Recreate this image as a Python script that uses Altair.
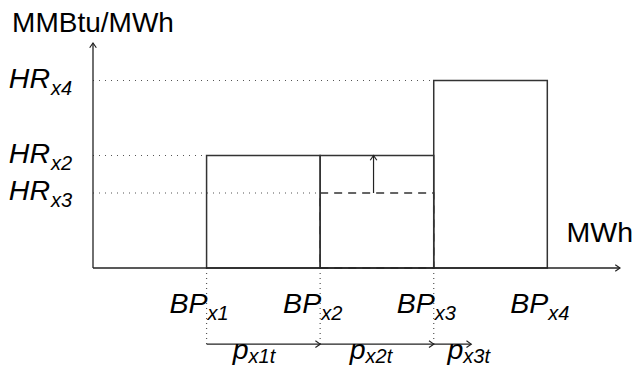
import altair as alt
import pandas as pd

# ---------------- data ----------------
bp_values = [1, 2, 3, 4]
bp_subs = ["x1", "x2", "x3", "x4"]
hr_values = [5, 3, 2]
hr_subs = ["x4", "x2", "x3"]

block_start = [1, 2, 3]
block_end = [2, 3, 4]
block_hr = [3, 3, 5]

dash_start = [2]
dash_end = [3]
dash_hr = [2]

guide_hr = [5, 3, 2]
guide_end = [3, 1, 2]

drop_x = [1, 2, 3]

p_start = [1, 2, 3]
p_end = [2, 3, 3.33]
p_label_x = [1.37, 2.40, 3.26]
p_subs = ["x1t", "x2t", "x3t"]

x_max = 4.64
y_max = 6
p_level = -2.03
up_arrow_x = 2.47

FONT = "Liberation Sans"
MAIN = 28.5
SUB = 20
LINE = "#222222"

xs = alt.Scale(domain=[0, x_max], nice=False, zero=False)
ys = alt.Scale(domain=[0, y_max], nice=False, zero=False)


def X(f):
    return alt.X(f"{f}:Q", scale=xs, axis=None)


def Y(f):
    return alt.Y(f"{f}:Q", scale=ys, axis=None)


def X2(f):
    return alt.X2(f"{f}:Q")


def Y2(f):
    return alt.Y2(f"{f}:Q")


# axes
axes_df = pd.DataFrame({"x": [0, 0], "x2": [0, x_max], "y": [0, 0], "y2": [y_max, 0]})
axes = alt.Chart(axes_df).mark_rule(color=LINE, strokeWidth=1.3).encode(
    x=X("x"), x2=X2("x2"), y=Y("y"), y2=Y2("y2"))

heads_r = pd.DataFrame({"x": [x_max] + p_end, "y": [0] + [p_level] * len(p_end)})
head_right = alt.Chart(heads_r).mark_point(
    shape="M-1,-0.7L0,0L-1,0.7", filled=False, size=90, color=LINE, strokeWidth=1.2, opacity=1
).encode(x=X("x"), y=Y("y"))

heads_u = pd.DataFrame({"x": [0, up_arrow_x], "y": [y_max, block_hr[1]]})
head_up = alt.Chart(heads_u).mark_point(
    shape="M-0.7,1L0,0L0.7,1", filled=False, size=90, color=LINE, strokeWidth=1.2, opacity=1
).encode(x=X("x"), y=Y("y"))

# blocks
blocks_df = pd.DataFrame({"x": block_start, "x2": block_end, "y": [0] * 3, "y2": block_hr})
blocks = alt.Chart(blocks_df).mark_rect(
    fill="transparent", stroke="#333333", strokeWidth=1.5
).encode(x=X("x"), x2=X2("x2"), y=Y("y"), y2=Y2("y2"))

dash_df = pd.DataFrame({"x": dash_start, "x2": dash_end, "y": [0], "y2": dash_hr})
dashed = alt.Chart(dash_df).mark_rect(
    fill="transparent", stroke="#333333", strokeWidth=1.5, strokeDash=[8, 6]
).encode(x=X("x"), x2=X2("x2"), y=Y("y"), y2=Y2("y2"))

# up arrow shaft
up_df = pd.DataFrame({"x": [up_arrow_x], "y": dash_hr, "y2": [block_hr[1]]})
up = alt.Chart(up_df).mark_rule(color=LINE, strokeWidth=1.2).encode(
    x=X("x"), y=Y("y"), y2=Y2("y2"))

# dotted guides
guide_df = pd.DataFrame({"x": [0] * 3, "x2": guide_end, "y": guide_hr})
guides = alt.Chart(guide_df).mark_rule(color="#555555", strokeWidth=1.2, strokeDash=[1, 5]).encode(
    x=X("x"), x2=X2("x2"), y=Y("y"))

drop_df = pd.DataFrame({"x": drop_x, "y": [0] * 3, "y2": [p_level] * 3})
drops = alt.Chart(drop_df).mark_rule(color="#555555", strokeWidth=1.2, strokeDash=[1, 4]).encode(
    x=X("x"), y=Y("y"), y2=Y2("y2"))

# p arrows
p_df = pd.DataFrame({"x": p_start, "x2": p_end, "y": [p_level] * 3})
p_arrows = alt.Chart(p_df).mark_rule(color=LINE, strokeWidth=1.3).encode(
    x=X("x"), x2=X2("x2"), y=Y("y"))

# texts
hr_df = pd.DataFrame({"x": [0] * 3, "y": hr_values, "m": ["HR"] * 3, "s": hr_subs})
hr_main = alt.Chart(hr_df).mark_text(align="right", baseline="alphabetic", dx=-43, dy=7,
                                     fontSize=MAIN, fontStyle="italic", font=FONT, color="black"
                                     ).encode(x=X("x"), y=Y("y"), text="m:N")
hr_sub = alt.Chart(hr_df).mark_text(align="left", baseline="alphabetic", dx=-42, dy=14,
                                    fontSize=SUB, fontStyle="italic", font=FONT, color="black"
                                    ).encode(x=X("x"), y=Y("y"), text="s:N")

bp_df = pd.DataFrame({"x": bp_values, "y": [0] * 4, "m": ["BP"] * 4, "s": bp_subs})
bp_main = alt.Chart(bp_df).mark_text(align="right", baseline="alphabetic", dx=1, dy=45,
                                     fontSize=MAIN, fontStyle="italic", font=FONT, color="black"
                                     ).encode(x=X("x"), y=Y("y"), text="m:N")
bp_sub = alt.Chart(bp_df).mark_text(align="left", baseline="alphabetic", dx=1, dy=52,
                                    fontSize=SUB, fontStyle="italic", font=FONT, color="black"
                                    ).encode(x=X("x"), y=Y("y"), text="s:N")

pl_df = pd.DataFrame({"x": p_label_x, "y": [p_level] * 3, "m": ["p"] * 3, "s": p_subs})
p_main = alt.Chart(pl_df).mark_text(align="right", baseline="alphabetic", dx=0, dy=15,
                                    fontSize=MAIN, fontStyle="italic", font=FONT, color="black"
                                    ).encode(x=X("x"), y=Y("y"), text="m:N")
p_sub = alt.Chart(pl_df).mark_text(align="left", baseline="alphabetic", dx=0, dy=19,
                                   fontSize=SUB, fontStyle="italic", font=FONT, color="black"
                                   ).encode(x=X("x"), y=Y("y"), text="s:N")

ttl_df = pd.DataFrame({"x": [0, x_max], "y": [y_max, 0], "t": ["MMBtu/MWh", "MWh"]})
ttl_y = alt.Chart(ttl_df.iloc[[0]]).mark_text(align="center", baseline="alphabetic", dy=-11,
                                              fontSize=28, font=FONT, color="black"
                                              ).encode(x=X("x"), y=Y("y"), text="t:N")
ttl_x = alt.Chart(ttl_df.iloc[[1]]).mark_text(align="right", baseline="alphabetic", dx=13, dy=-26,
                                              fontSize=MAIN, font=FONT, color="black"
                                              ).encode(x=X("x"), y=Y("y"), text="t:N")

chart = alt.layer(
    guides, drops, blocks, dashed, up, axes, p_arrows, head_right, head_up,
    hr_main, hr_sub, bp_main, bp_sub, p_main, p_sub, ttl_y, ttl_x
).properties(
    width=527, height=225,
    padding={"left": 85, "top": 35, "right": 14, "bottom": 100},
    autosize=alt.AutoSizeParams(type="none"),
    background="white",
).configure_view(stroke=None)

chart.save("out.html", embed_options={"renderer": "svg", "actions": False})
